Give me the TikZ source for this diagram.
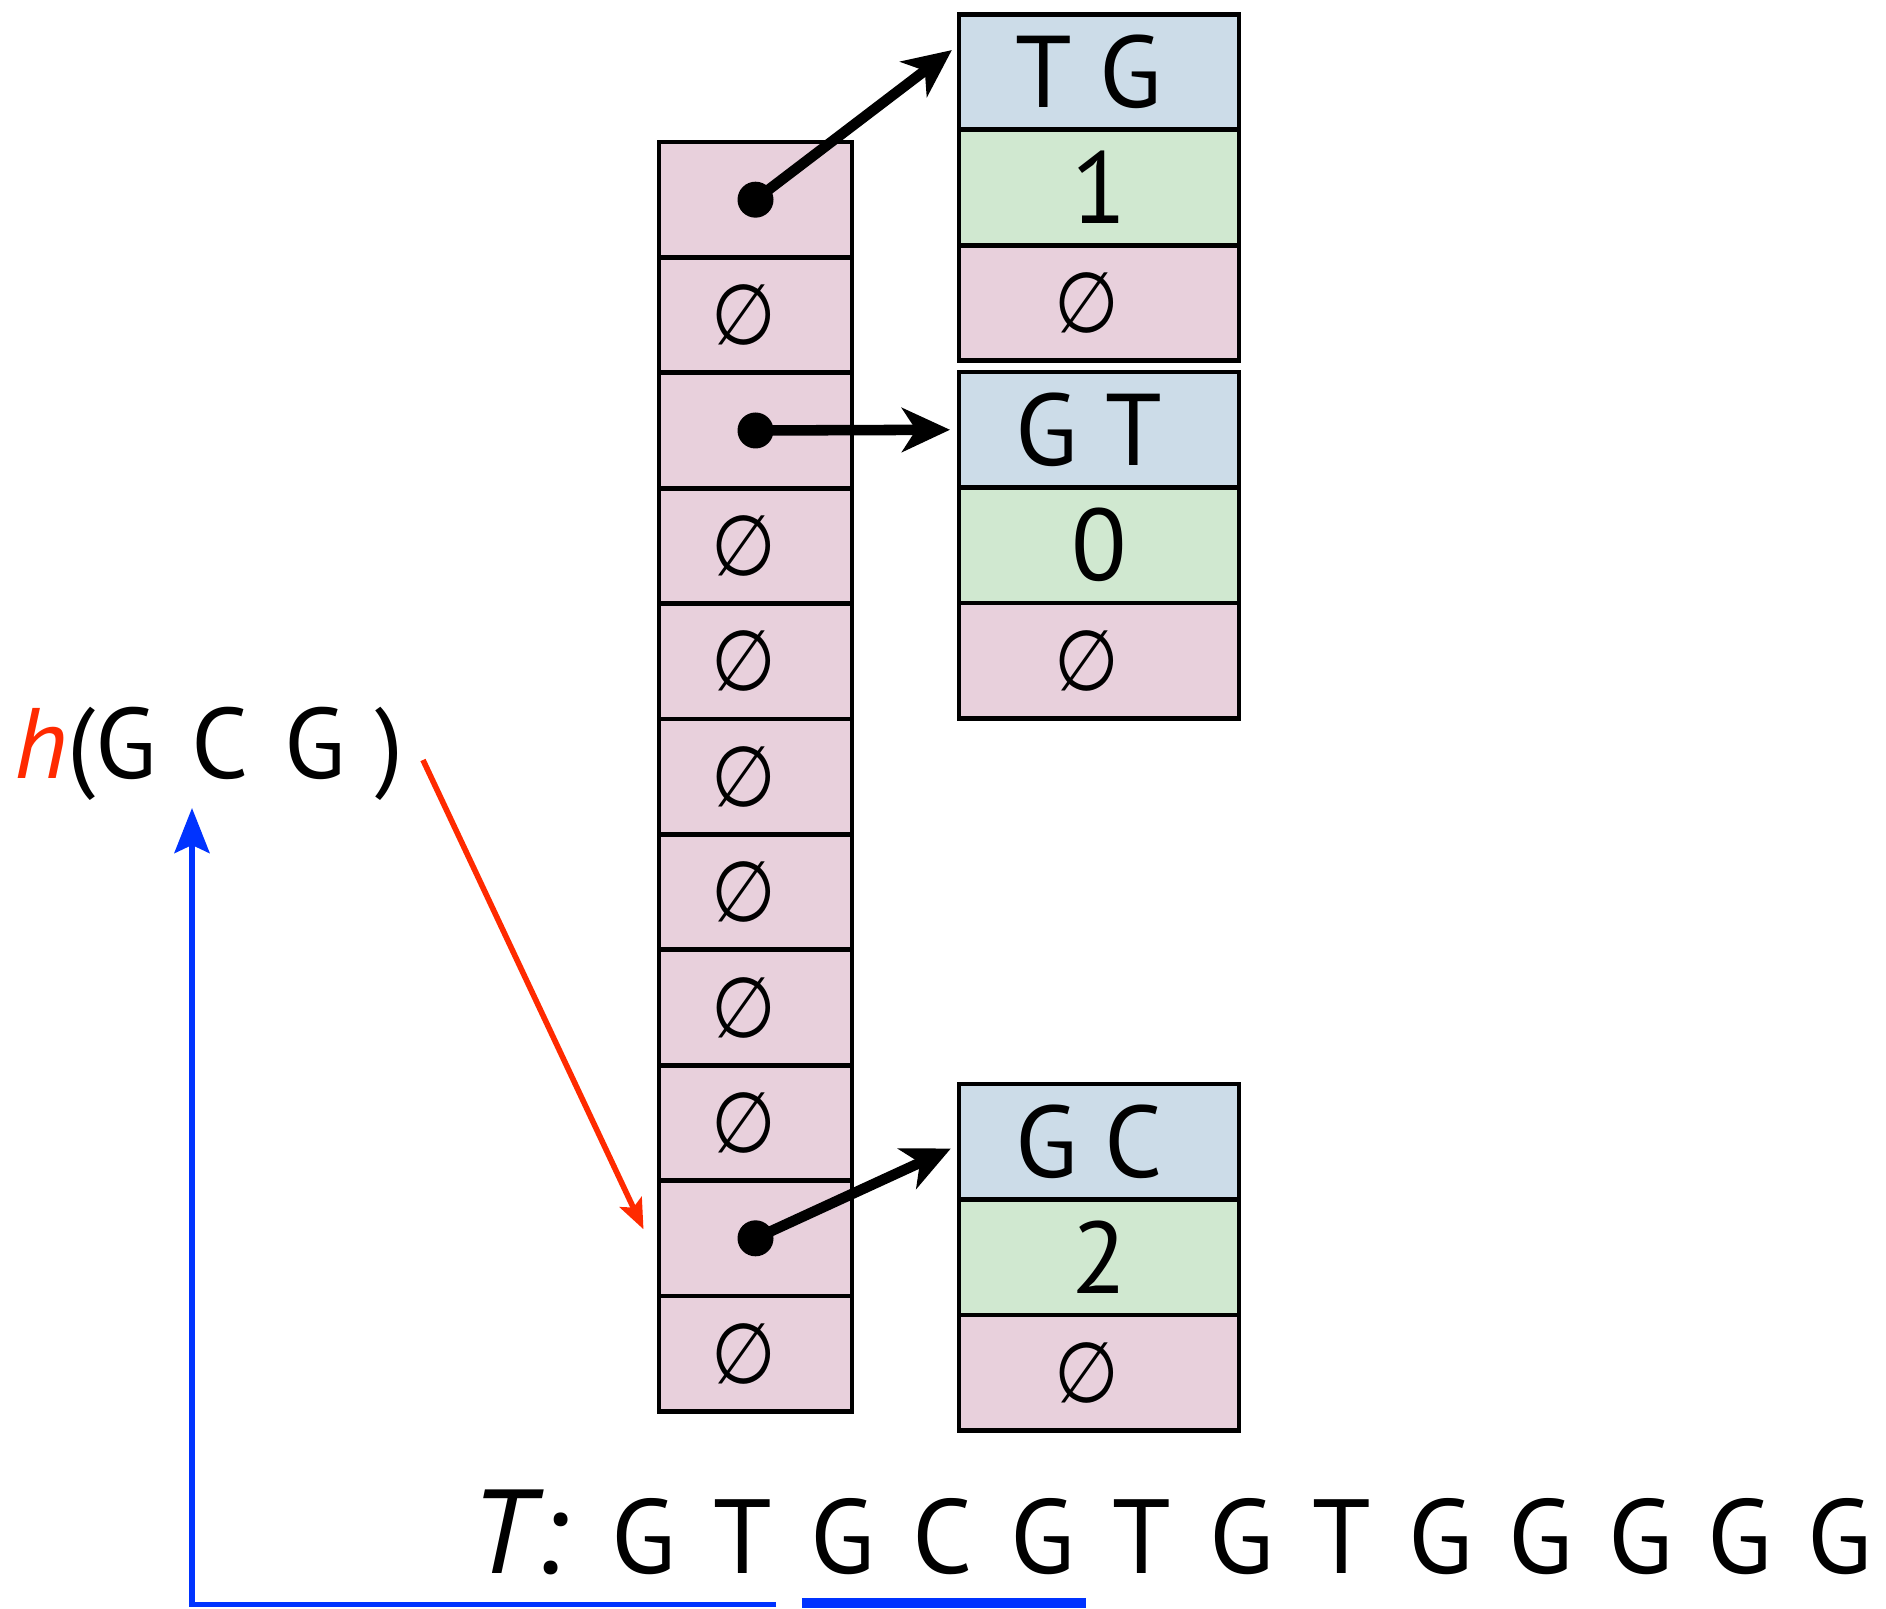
\documentclass[tikz,border=0pt]{standalone}
\usepackage{fontspec}
\setmainfont{PT Sans}
\newfontfamily\symfont{DejaVu Sans}
\usetikzlibrary{arrows.meta, calc}
\definecolor{keyblue}{HTML}{CCDCE8}
\definecolor{valgreen}{HTML}{D0E8D0}
\definecolor{slotpink}{HTML}{E8D0DC}
\definecolor{hashred}{HTML}{FF2A00}
\definecolor{scanblue}{HTML}{0033FF}
\tikzset{slot/.style={draw, line width=1.4pt, fill=slotpink, minimum width=1.93cm, minimum height=1.154cm, inner sep=0pt, outer sep=0pt}}
\tikzset{entry/.style={draw, line width=1.4pt, minimum width=2.80cm, minimum height=1.155cm, inner sep=0pt, outer sep=0pt, font=\fontsize{29}{32}\selectfont}}
\tikzset{pointer/.style={line width=3pt, -{Stealth[length=4.8mm, width=4.4mm, inset=1.4mm]}, shorten >=0.9mm}}
\tikzset{hasharrow/.style={draw=hashred, line width=1.6pt, -{Stealth[length=3mm, width=2.4mm, inset=0.6mm]}}}
\tikzset{scan/.style={draw=scanblue, line width=1.6pt}}
\tikzset{base/.style={font=\fontsize{30}{34}\selectfont, anchor=base, inner sep=0pt}}
\newcommand{\nul}{{\symfont\fontsize{24}{28}\selectfont\scalebox{0.88}[1]{∅}}\kern2.4mm}

\begin{document}
\begin{tikzpicture}
\useasboundingbox (0,0) rectangle (18.86,-16.09);
% hash table slots
\foreach \t [count=\i] in {{},\nul,{},\nul,\nul,\nul,\nul,\nul,\nul,{},\nul}
  \node[slot] (c\i) at (7.555, {-1.42-(\i-0.5)*1.154}) {\t};
% stored entries: key, value, next
\foreach \name/\top/\key/\val in {tg/0.144/T G/1, gt/3.72/G T/0, gc/10.84/G C/2} {
  \node[entry, fill=keyblue] (\name-key) at (10.99, {-\top-0.5775}) {\key\kern2mm};
  \node[entry, fill=valgreen] (\name-val) at (10.99, {-\top-1.7325}) {\val};
  \node[entry, fill=slotpink] (\name-next) at (10.99, {-\top-2.8875}) {\nul};
}
% pointers
\fill (c1.center) circle (0.18);
\draw[pointer] (c1.center) -- ([yshift=2.75mm]tg-key.west);
\fill (c3.center) circle (0.18);
\draw[pointer] (c3.center) -- (gt-key.west);
\fill (c10.center) circle (0.18);
\draw[pointer] (c10.center) -- ([yshift=-0.3mm]gc-key.west);
% hashed query
\node[anchor=base west, inner sep=0pt, font=\fontsize{28.5}{32}\selectfont] (query) at (0.14,-7.79)
  {\textcolor{hashred}{\textit{h}}(G\hspace{3.5mm}C\hspace{3.5mm}G\hspace{3.0mm})};
\coordinate (hashout) at (4.23,-7.60);
\draw[hasharrow] (hashout) -- ([shift={(-0.155,0.09)}]c10.west);
% text
\node[base, anchor=base west, font=\fontsize{34}{38}\selectfont] (tlabel) at (4.70,-15.73) {\textit{T:}};
\foreach \b [count=\i] in {G,T,G,C,G,T,G,T,G,G,G,G,G}
  \node[base] (l\i) at ({6.435+(\i-1)*0.997}, -15.73) {\b};
\draw[scanblue, line width=2.6pt] ($(l3.base)+(-0.41,-0.30)$) -- ($(l5.base)+(0.44,-0.30)$);
\coordinate (scanstart) at (7.76,-16.045);
\coordinate (hashin) at (1.92,-8.08);
\draw[scan, -{Stealth[length=4.5mm, width=3.5mm, inset=0.8mm]}] (scanstart) -| (hashin);
\end{tikzpicture}
\end{document}
